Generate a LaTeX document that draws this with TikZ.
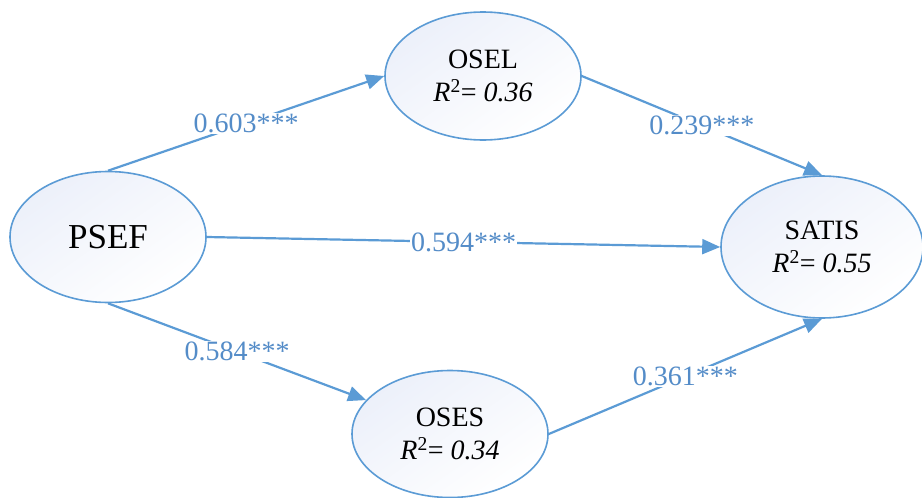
\documentclass[tikz,border=0pt]{standalone}
\usepackage{fontspec}
\setmainfont{Liberation Serif}
\usetikzlibrary{arrows.meta,shapes.geometric}
\definecolor{pathblue}{RGB}{91,155,213}
\definecolor{coefblue}{RGB}{84,140,200}
\definecolor{fillblue}{RGB}{236,240,250}

\begin{document}
\begin{tikzpicture}[x=1pt,y=-1pt,
  var/.style={ellipse,draw=pathblue,line width=1.6pt,inner sep=0pt,
    top color=fillblue,bottom color=white,shading angle=35,align=center},
  effect/.style={draw=pathblue,line width=2.2pt,-{Triangle[length=18pt,width=15pt]}},
  coef/.style={fill=white,inner sep=1pt,text=coefblue,font=\fontsize{28}{30}\selectfont}]
\useasboundingbox (0,0) rectangle (922,498);
\node [var,minimum width=196pt,minimum height=131pt,font=\fontsize{35}{38}\selectfont] (psef) at (108,237) {PSEF};
\node [var,minimum width=196pt,minimum height=128pt,font=\fontsize{28}{33}\selectfont] (osel) at (483,76)
  {OSEL\\\textit{R}\textsuperscript{2}= \textit{0.36}};
\node [var,minimum width=202pt,minimum height=142pt,font=\fontsize{28}{33}\selectfont] (satis) at (822,247)
  {SATIS\\\textit{R}\textsuperscript{2}= \textit{0.55}};
\node [var,minimum width=196pt,minimum height=127pt,font=\fontsize{28}{33}\selectfont] (oses) at (450,434)
  {OSES\\\textit{R}\textsuperscript{2}= \textit{0.34}};
\draw [effect] (psef.north) -- node [coef] {0.603***} (osel.west);
\draw [effect] (osel.east) -- node [coef] {0.239***} (satis.north);
\draw [effect] (psef.east) -- node [coef] {0.594***} (satis.west);
\draw [effect] (psef.south) -- node [coef] {0.584***} (oses.158);
\draw [effect] (oses.east) -- node [coef] {0.361***} (satis.south);
\end{tikzpicture}
\end{document}
